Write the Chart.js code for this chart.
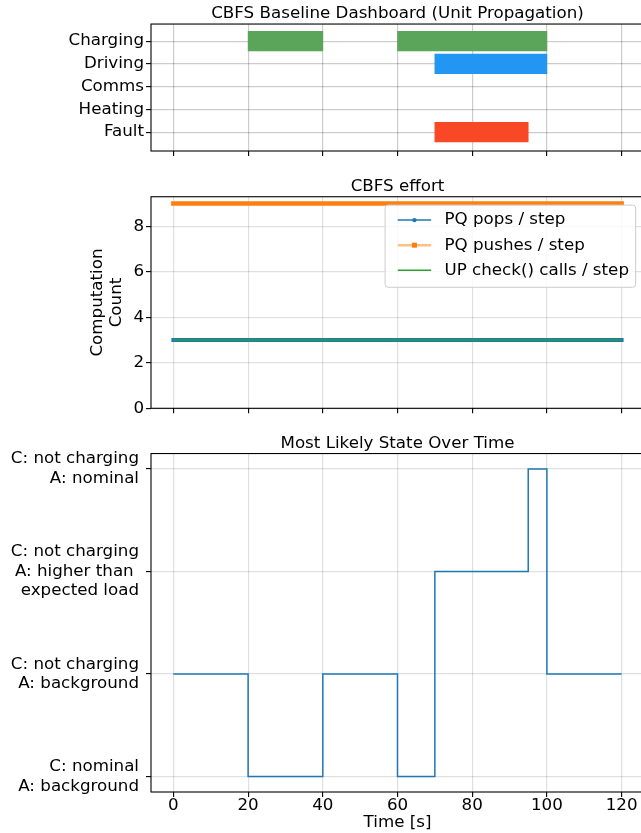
<!DOCTYPE html>
<html>
<head>
<meta charset="utf-8">
<title>CBFS Baseline Dashboard</title>
<script src="https://cdn.jsdelivr.net/npm/chart.js@4.4.1/dist/chart.umd.min.js"></script>
<style>
  html, body { margin: 0; padding: 0; background: #fff; overflow: hidden; width: 641px; height: 833px; }
  .panel { position: absolute; left: 0; width: 660px; }
  #p1 { top: 0; height: 160px; }
  #p2 { top: 160px; height: 260px; }
  #p3 { top: 420px; height: 413px; }
</style>
</head>
<body>
<div class="panel" id="p1"><canvas id="timeline"></canvas></div>
<div class="panel" id="p2"><canvas id="effort"></canvas></div>
<div class="panel" id="p3"><canvas id="state"></canvas></div>
<script>
// activity tracks, spans are [start, end] in seconds
const tracks = ['Charging', 'Driving', 'Comms', 'Heating', 'Fault'];
const chargingSpans = [[20, 40], [60, 100]];
const drivingSpans = [[70, 100]];
const commsSpans = [];
const heatingSpans = [];
const faultSpans = [[70, 95]];

// search effort per step
const timeSteps = [0, 5, 10, 15, 20, 25, 30, 35, 40, 45, 50, 55, 60, 65, 70, 75, 80, 85, 90, 95, 100, 105, 110, 115, 120];
const pqPops   = [3, 3, 3, 3, 3, 3, 3, 3, 3, 3, 3, 3, 3, 3, 3, 3, 3, 3, 3, 3, 3, 3, 3, 3, 3];
const pqPushes = [9, 9, 9, 9, 9, 9, 9, 9, 9, 9, 9, 9, 9, 9, 9, 9, 9, 9, 9, 9, 9, 9, 9, 9, 9];
const upChecks = [3, 3, 3, 3, 3, 3, 3, 3, 3, 3, 3, 3, 3, 3, 3, 3, 3, 3, 3, 3, 3, 3, 3, 3, 3];

// most likely state, held from each time until the next one
const stateLabels = [
  ['C: nominal', 'A: background'],
  ['C: not charging', 'A: background'],
  ['C: not charging', 'A: higher than ', 'expected load'],
  ['C: not charging', 'A: nominal']
];
const stateTimes = [0, 20, 40, 60, 70, 95, 100, 120];
const stateIndex = [1, 0, 1, 0, 2, 3, 1, 1];

const timeTicks = [0, 20, 40, 60, 80, 100, 120];
const effortTicks = [0, 2, 4, 6, 8];

Chart.defaults.font.family = '"DejaVu Sans", sans-serif';
Chart.defaults.font.size = 16.7;
Chart.defaults.color = '#000';
Chart.defaults.animation = false;

const FS = 16.7;

// black box around the plot area
const frame = {
  id: 'frame',
  afterDraw(chart) {
    const { ctx, chartArea: a } = chart;
    ctx.save();
    ctx.strokeStyle = '#000';
    ctx.lineWidth = 1.1;
    ctx.strokeRect(a.left, a.top, a.right - a.left, a.bottom - a.top);
    ctx.restore();
  }
};

function panelTitle(text, top) {
  return {
    display: true, text: text, fullSize: false, color: '#000',
    padding: { top: top, bottom: 0 },
    font: { weight: 'normal', size: FS, lineHeight: 1.2 }
  };
}

// fixed axis sizes, no extra room for overhanging labels
function fixWidth(w) {
  return s => { s.width = w; s.paddingTop = 0; s.paddingBottom = 0; };
}
function fixHeight(h) {
  return s => { s.height = h; s.paddingLeft = 0; s.paddingRight = 0; };
}

function timeAxis(showLabels, height, gridColor) {
  return {
    type: 'linear', min: -6, max: 126, offset: false,
    afterBuildTicks: s => { s.ticks = timeTicks.map(v => ({ value: v })); },
    afterFit: fixHeight(height),
    grid: { color: gridColor, lineWidth: 1.2, offset: false, tickColor: '#000', tickLength: 5, tickWidth: 1.1 },
    border: { display: false },
    ticks: { padding: 0, maxRotation: 0, font: { lineHeight: 1 }, callback: v => showLabels ? String(v) : '' }
  };
}

function spanBars(name, spans, color) {
  const row = tracks.indexOf(name);
  return {
    label: name,
    data: spans.map(s => ({ x: s, y: row })),
    backgroundColor: color,
    barThickness: 19.5,
    grouped: false
  };
}

// activity timeline
new Chart(document.getElementById('timeline'), {
  type: 'bar',
  data: {
    datasets: [
      spanBars('Charging', chargingSpans, '#5ba55a'),
      spanBars('Driving', drivingSpans, '#2196f3'),
      spanBars('Comms', commsSpans, '#9c27b0'),
      spanBars('Heating', heatingSpans, '#ff9800'),
      spanBars('Fault', faultSpans, '#f94826')
    ]
  },
  options: {
    indexAxis: 'y',
    responsive: true,
    maintainAspectRatio: false,
    layout: { padding: { left: 0, right: 16, top: 0, bottom: 0 } },
    plugins: {
      legend: { display: false },
      tooltip: { enabled: false },
      title: panelTitle('CBFS Baseline Dashboard (Unit Propagation)', 4)
    },
    scales: {
      x: Object.assign(timeAxis(false, 9, 'rgba(0,0,0,0.2)'), { z: 1 }),
      y: {
        type: 'linear', reverse: true, min: -0.75, max: 4.83, z: 1, offset: false,
        afterBuildTicks: s => { s.ticks = tracks.map((t, i) => ({ value: i })); },
        afterFit: fixWidth(151),
        grid: { color: 'rgba(0,0,0,0.2)', lineWidth: 1.2, offset: false, tickColor: '#000', tickLength: 5, tickWidth: 1.1 },
        border: { display: false },
        ticks: { padding: 2, callback: v => tracks[v] }
      }
    }
  },
  plugins: [frame]
});

// legend with line + marker handles, placed in the upper right
const handleStyles = [
  { width: 1.5, alpha: 1, marker: 'circle' },
  { width: 2.5, alpha: 0.5, marker: 'square' },
  { width: 1.5, alpha: 1, marker: null }
];
const effortLegend = {
  id: 'effortLegend',
  afterDatasetsDraw(chart) {
    const { ctx, chartArea: a } = chart;
    const sets = chart.data.datasets;
    const pad = 0.4 * FS, handle = 2 * FS, gap = 0.8 * FS, row = 1.5 * FS;
    ctx.save();
    ctx.font = FS + 'px "DejaVu Sans"';
    const textW = Math.max(...sets.map(d => ctx.measureText(d.label).width));
    const w = pad * 2 + handle + gap + textW + 6;
    const h = pad * 2 + FS + row * (sets.length - 1) + 2;
    const x0 = a.right - 0.5 * FS - w;
    const y0 = a.top + 0.5 * FS;
    ctx.beginPath();
    ctx.roundRect(x0, y0, w, h, 3);
    ctx.fillStyle = 'rgba(255,255,255,0.8)';
    ctx.fill();
    ctx.strokeStyle = '#cccccc';
    ctx.lineWidth = 1;
    ctx.stroke();
    sets.forEach((d, i) => {
      const st = handleStyles[i];
      const cy = y0 + pad + FS / 2 + i * row;
      const hx = x0 + pad + 6;
      ctx.globalAlpha = st.alpha;
      ctx.strokeStyle = d.borderColor;
      ctx.lineWidth = st.width;
      ctx.beginPath();
      ctx.moveTo(hx, cy);
      ctx.lineTo(hx + handle, cy);
      ctx.stroke();
      ctx.globalAlpha = 1;
      ctx.fillStyle = d.borderColor;
      if (st.marker === 'circle') {
        ctx.beginPath();
        ctx.arc(hx + handle / 2, cy, 2.2, 0, Math.PI * 2);
        ctx.fill();
      } else if (st.marker === 'square') {
        ctx.fillRect(hx + handle / 2 - 2.5, cy - 2.5, 5, 5);
      }
      ctx.fillStyle = '#000';
      ctx.textBaseline = 'middle';
      ctx.textAlign = 'left';
      ctx.fillText(d.label, hx + handle + gap, cy);
    });
    ctx.restore();
  }
};

function series(values) {
  return timeSteps.map((t, i) => ({ x: t, y: values[i] }));
}

// search effort
new Chart(document.getElementById('effort'), {
  type: 'line',
  data: {
    datasets: [
      { label: 'PQ pops / step', data: series(pqPops), borderColor: '#1f77b4', borderWidth: 4, borderCapStyle: 'square', order: 2 },
      { label: 'PQ pushes / step', data: series(pqPushes), borderColor: '#ff7f0e', borderWidth: 4.6, borderCapStyle: 'square', order: 1 },
      { label: 'UP check() calls / step', data: series(upChecks), borderColor: '#2ca02c', borderWidth: 1.5, order: 0 }
    ]
  },
  options: {
    responsive: true,
    maintainAspectRatio: false,
    elements: { point: { radius: 0 }, line: { tension: 0 } },
    layout: { padding: { left: 0, right: 16, top: 0, bottom: 0 } },
    plugins: {
      legend: { display: false },
      tooltip: { enabled: false },
      title: panelTitle('CBFS effort', 16.7)
    },
    scales: {
      x: timeAxis(false, 11.7, 'rgba(0,0,0,0.12)'),
      y: {
        type: 'linear', min: 0, max: 9.3,
        afterBuildTicks: s => { s.ticks = effortTicks.map(v => ({ value: v })); },
        afterFit: fixWidth(151),
        grid: { color: 'rgba(0,0,0,0.12)', lineWidth: 1.2, tickColor: '#000', tickLength: 5, tickWidth: 1.1 },
        border: { display: false },
        ticks: { padding: 2 },
        title: { display: true, text: ['Computation', 'Count'], padding: { top: 88, bottom: 0 }, font: { lineHeight: 1.15 } }
      }
    }
  },
  plugins: [frame, effortLegend]
});

// most likely state over time
new Chart(document.getElementById('state'), {
  type: 'line',
  data: {
    datasets: [{
      label: 'Most likely state',
      data: stateTimes.map((t, i) => ({ x: t, y: stateIndex[i] })),
      borderColor: '#1f77b4',
      borderWidth: 1.5,
      stepped: 'before',
      pointRadius: 0
    }]
  },
  options: {
    responsive: true,
    maintainAspectRatio: false,
    layout: { padding: { left: 0, right: 16, top: 0, bottom: 0 } },
    plugins: {
      legend: { display: false },
      tooltip: { enabled: false },
      title: panelTitle('Most Likely State Over Time', 13.5)
    },
    scales: {
      x: Object.assign(timeAxis(true, 41, 'rgba(0,0,0,0.12)'), {
        title: { display: true, text: 'Time [s]', padding: { top: 0, bottom: 0 }, font: { lineHeight: 1.2 } }
      }),
      y: {
        type: 'linear', min: -0.15, max: 3.15,
        afterBuildTicks: s => { s.ticks = stateLabels.map((l, i) => ({ value: i })); },
        afterFit: fixWidth(151),
        grid: { color: 'rgba(0,0,0,0.12)', lineWidth: 1.2, tickColor: '#000', tickLength: 5, tickWidth: 1.1 },
        border: { display: false },
        ticks: { padding: 7, font: { lineHeight: 1.17 }, callback: v => stateLabels[v] }
      }
    }
  },
  plugins: [frame]
});
</script>
</body>
</html>
